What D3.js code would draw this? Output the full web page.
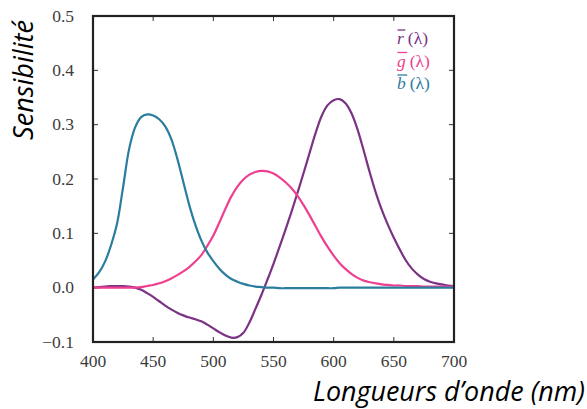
<!DOCTYPE html>
<html><head><meta charset="utf-8">
<script src="https://cdn.jsdelivr.net/npm/d3@7/dist/d3.min.js"></script>
<style>body{margin:0;background:#fff}</style>
</head><body>
<svg id="c" width="587" height="409"></svg>
<script>
const wavelengths = [400,405,410,415,420,425,430,435,440,445,450,455,460,465,470,475,480,485,490,495,500,505,510,515,520,525,530,535,540,545,550,555,560,565,570,575,580,585,590,595,600,605,610,615,620,625,630,635,640,645,650,655,660,665,670,675,680,685,690,695,700];
const rBar = [0.000,0.001,0.002,0.003,0.003,0.003,0.002,0.000,-0.004,-0.010,-0.017,-0.025,-0.033,-0.040,-0.046,-0.051,-0.055,-0.058,-0.062,-0.068,-0.075,-0.082,-0.088,-0.092,-0.091,-0.083,-0.064,-0.039,-0.013,0.015,0.044,0.075,0.107,0.140,0.175,0.211,0.248,0.285,0.316,0.336,0.345,0.347,0.339,0.320,0.290,0.252,0.212,0.175,0.143,0.116,0.092,0.070,0.050,0.035,0.024,0.016,0.011,0.008,0.006,0.004,0.003];
const gBar = [0.000,0.000,0.000,0.000,0.000,0.000,0.000,0.000,0.001,0.003,0.005,0.008,0.012,0.017,0.023,0.030,0.038,0.048,0.060,0.077,0.096,0.120,0.145,0.168,0.186,0.199,0.208,0.213,0.215,0.214,0.210,0.203,0.194,0.183,0.169,0.152,0.133,0.113,0.093,0.075,0.059,0.045,0.034,0.025,0.018,0.013,0.010,0.008,0.006,0.005,0.004,0.004,0.003,0.003,0.003,0.002,0.002,0.002,0.002,0.002,0.002];
const bBar = [0.015,0.028,0.048,0.078,0.118,0.185,0.255,0.295,0.314,0.319,0.317,0.310,0.297,0.274,0.238,0.195,0.152,0.116,0.087,0.065,0.049,0.035,0.024,0.016,0.011,0.007,0.004,0.002,0.001,0.000,0.000,-0.001,-0.001,-0.001,-0.001,-0.001,-0.001,-0.001,-0.001,-0.001,-0.001,0.000,0.000,0.000,0.000,0.000,0.000,0.000,0.000,0.000,0.000,0.000,0.000,0.000,0.000,0.000,0.000,0.000,0.000,0.000,0.000];
const xTicks = [400,450,500,550,600,650,700];
const yTicks = [-0.1,0.0,0.1,0.2,0.3,0.4,0.5];
const seriesNames = ["r","g","b"];
const seriesColors = ["#7b3284","#ee3f90","#2a7d9e"];
const xTitle = "Longueurs d’onde (nm)";
const yTitle = "Sensibilité";

const svg = d3.select("#c");
const L = 93, R = 454, T = 16, B = 342;
const x = d3.scaleLinear().domain([400,700]).range([L,R]);
const y = d3.scaleLinear().domain([-0.1,0.5]).range([B,T]);
const serif = "'Liberation Serif','Times New Roman',serif";

// ticks (inward, mirrored)
const tk = svg.append("g").attr("stroke","#333").attr("stroke-width",1);
xTicks.forEach(v=>{
  tk.append("line").attr("x1",x(v)).attr("x2",x(v)).attr("y1",B).attr("y2",B-5);
  tk.append("line").attr("x1",x(v)).attr("x2",x(v)).attr("y1",T).attr("y2",T+5);
});
yTicks.forEach(v=>{
  tk.append("line").attr("y1",y(v)).attr("y2",y(v)).attr("x1",L).attr("x2",L+5);
  tk.append("line").attr("y1",y(v)).attr("y2",y(v)).attr("x1",R).attr("x2",R-5);
});

// tick labels
svg.append("g").selectAll("text").data(xTicks).join("text")
  .attr("x",d=>x(d)).attr("y",367).attr("text-anchor","middle")
  .attr("font-family",serif).attr("font-size",17.5).attr("fill","#3c3c3c")
  .text(d=>d);
svg.append("g").selectAll("text").data(yTicks).join("text")
  .attr("x",74).attr("y",d=>y(d)+5.5).attr("text-anchor","end")
  .attr("font-family",serif).attr("font-size",17.5).attr("fill","#3c3c3c")
  .text(d=>(d<0?"\u2212":"")+Math.abs(d).toFixed(1));

// curves
const line = d3.line().x((d,i)=>x(wavelengths[i])).y(d=>y(d)).curve(d3.curveCatmullRom.alpha(0.5));
[rBar,gBar,bBar].forEach((s,i)=>{
  svg.append("path").attr("d",line(s)).attr("fill","none")
    .attr("stroke",seriesColors[i]).attr("stroke-width",2.2).attr("stroke-linejoin","round");
});

// frame
svg.append("rect").attr("x",L).attr("y",T).attr("width",R-L).attr("height",B-T)
  .attr("fill","none").attr("stroke","#222").attr("stroke-width",2.2);

// legend
const lg = svg.append("g");
seriesNames.forEach((n,i)=>{
  const by = 44 + i*22.5;
  const letter = lg.append("text").attr("x",397).attr("y",by)
    .attr("font-family",serif).attr("font-style","italic").attr("font-size",17.5)
    .attr("fill",seriesColors[i]).text(n);
  const lw = letter.node().getComputedTextLength();
  lg.append("line").attr("x1",397.5).attr("x2",397+lw+1.5)
    .attr("y1",by-14).attr("y2",by-14).attr("stroke",seriesColors[i]).attr("stroke-width",1.3);
  lg.append("text").attr("x",397+lw+4).attr("y",by)
    .attr("font-family",serif).attr("font-size",17.5).attr("fill",seriesColors[i]).text("(λ)");
});

// axis titles
const sans = "'Open Sans','Noto Sans',sans-serif";
const xt = svg.append("text").attr("x",313).attr("y",401)
  .attr("font-family",sans).attr("font-style","italic").attr("font-size",24).attr("fill","#000").text(xTitle);
let w = xt.node().getComputedTextLength();
xt.attr("font-size",24*272/w);
const yt = svg.append("text").attr("transform","translate(33,140) rotate(-90)")
  .attr("font-family",sans).attr("font-style","italic").attr("font-size",24).attr("fill","#000").text(yTitle);
w = yt.node().getComputedTextLength();
yt.attr("font-size",24*120/w);
</script>
</body></html>
